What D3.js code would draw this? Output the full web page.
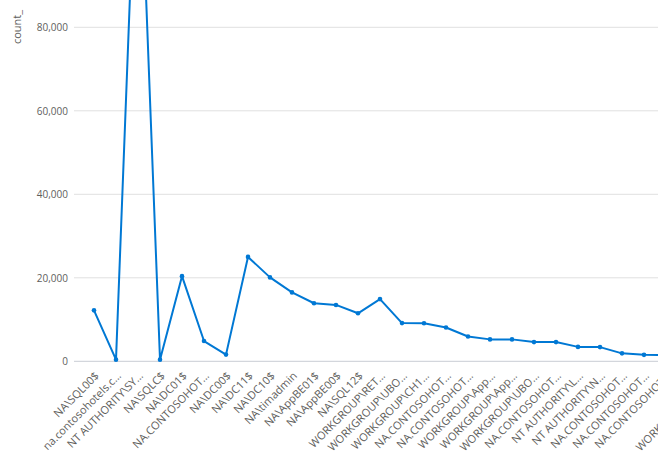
<!DOCTYPE html>
<html>
<head>
<meta charset="utf-8">
<script src="https://cdn.jsdelivr.net/npm/d3@7"></script>
<style>
  html, body { margin: 0; padding: 0; background: #fff; overflow: hidden; }
  svg { display: block; font-family: "Open Sans", "Noto Sans", sans-serif; }
</style>
</head>
<body>
<svg id="chart" width="658" height="452"></svg>
<script>
const categories = [
  "NA\\SQL00$", "na.contosohotels.c…", "NT AUTHORITY\\SY…", "NA\\SQLC$", "NA\\DC01$",
  "NA.CONTOSOHOT…", "NA\\DC00$", "NA\\DC11$", "NA\\DC10$", "NA\\timadmin",
  "NA\\AppBE01$", "NA\\AppBE00$", "NA\\SQL12$", "WORKGROUP\\RET…", "WORKGROUP\\UBO…",
  "WORKGROUP\\CH1…", "NA.CONTOSOHOT…", "NA.CONTOSOHOT…", "WORKGROUP\\App…", "WORKGROUP\\App…",
  "WORKGROUP\\UBO…", "NA.CONTOSOHOT…", "NT AUTHORITY\\L…", "NT AUTHORITY\\N…", "NA.CONTOSOHOT…",
  "NA.CONTOSOHOT…", "NA.CONTOSOHOT…", "NA\\AD$", "WORKGROUP\\UBO…"
];
const counts = [
  12200, 400, 137500, 400, 20400,
  4850, 1600, 25000, 20100, 16500,
  13900, 13500, 11500, 14900, 9150,
  9100, 8100, 5950, 5250, 5250,
  4600, 4600, 3450, 3400, 1900,
  1550, 1450, 1300, 1200
];
const yTicks = [0, 20000, 40000, 60000, 80000, 100000];
const yTitle = "count_";

const svg = d3.select("#chart");
const keys = categories.map((c, i) => i);

const x = d3.scalePoint().domain(keys).range([94, 94 + 22 * (categories.length - 1)]);
const y = d3.scaleLinear().domain([0, 80000]).range([361.3, 27.3]);

// gridlines
svg.append("g").selectAll("line").data(yTicks).join("line")
  .attr("x1", 74).attr("x2", 658)
  .attr("y1", d => y(d)).attr("y2", d => y(d))
  .attr("stroke", d => d === 0 ? "#c8ccd4" : "#e0e0e0")
  .attr("stroke-width", 1);

// y axis
const yAxis = svg.append("g").attr("transform", "translate(68,0)")
  .call(d3.axisLeft(y).tickValues(yTicks).tickSize(0).tickPadding(0).tickFormat(d3.format(",")));
yAxis.select(".domain").remove();
yAxis.selectAll("text").attr("fill", "#605e5c").attr("font-size", 10)
  .attr("font-family", "'Open Sans', sans-serif");

svg.append("text")
  .attr("transform", "translate(20.5,27) rotate(-90)")
  .attr("text-anchor", "middle")
  .attr("fill", "#605e5c").attr("font-size", 11)
  .text(yTitle);

// x axis labels
const xAxis = svg.append("g").attr("transform", "translate(0,361.3)")
  .call(d3.axisBottom(x).tickSize(0).tickFormat(i => categories[i]));
xAxis.select(".domain").remove();
xAxis.selectAll("text")
  .attr("fill", "#605e5c").attr("font-size", 11)
  .attr("font-family", "'Open Sans', sans-serif")
  .attr("text-anchor", "end")
  .attr("y", 0).attr("dy", "0.35em")
  .attr("transform", "translate(2.5,12.5) rotate(-45)");

// line
const line = d3.line().x((d, i) => x(i)).y(d => y(d));
svg.append("path").datum(counts)
  .attr("fill", "none").attr("stroke", "#0078d4")
  .attr("stroke-width", 2).attr("stroke-linejoin", "round")
  .attr("d", line);

svg.append("g").selectAll("circle").data(counts).join("circle")
  .attr("cx", (d, i) => x(i)).attr("cy", d => y(d))
  .attr("r", 2.3).attr("fill", "#0078d4");
</script>
</body>
</html>
